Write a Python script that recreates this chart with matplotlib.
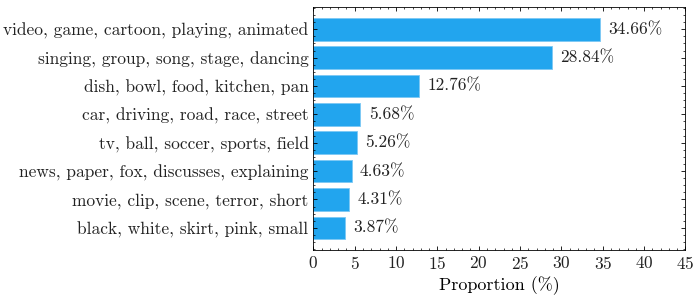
import matplotlib
matplotlib.use("Agg")
import matplotlib.pyplot as plt
from matplotlib.ticker import MultipleLocator

topics = [
    "video, game, cartoon, playing, animated",
    "singing, group, song, stage, dancing",
    "dish, bowl, food, kitchen, pan",
    "car, driving, road, race, street",
    "tv, ball, soccer, sports, field",
    "news, paper, fox, discusses, explaining",
    "movie, clip, scene, terror, short",
    "black, white, skirt, pink, small",
]
proportions = [34.66, 28.84, 12.76, 5.68, 5.26, 4.63, 4.31, 3.87]

plt.rcParams["font.family"] = "cmr10"
plt.rcParams["mathtext.fontset"] = "cm"
plt.rcParams["axes.formatter.use_mathtext"] = True
plt.rcParams["font.size"] = 12.5
plt.rcParams["text.color"] = "#222222"
plt.rcParams["xtick.labelcolor"] = "#222222"
plt.rcParams["ytick.labelcolor"] = "#222222"

fig, ax = plt.subplots(figsize=(6.98, 2.99), dpi=100)
pos = list(range(len(topics)))
ax.barh(pos, proportions, height=0.8, color="#22a5ee", edgecolor="#7cc8f4", linewidth=0.6)
for y, v in zip(pos, proportions):
    ax.text(v + 1.0, y, f"{v:.2f}%", va="center", ha="left", fontsize=12.5)

ax.set_yticks(pos)
ax.set_yticklabels(topics)
ax.invert_yaxis()
ax.set_xlim(0, 45)
ax.xaxis.set_major_locator(MultipleLocator(5))
ax.xaxis.set_minor_locator(MultipleLocator(1))
ax.yaxis.set_minor_locator(MultipleLocator(0.25))
ax.set_xlabel("Proportion (%)", fontsize=13, labelpad=3)
ax.tick_params(which="both", direction="in", top=True, right=True)
ax.tick_params(which="major", length=3, width=0.6)
ax.tick_params(which="minor", length=1.5, width=0.5)
for s in ax.spines.values():
    s.set_linewidth(0.6)

fig.subplots_adjust(left=0.449, right=0.982, top=0.977, bottom=0.163)
fig.savefig("out.png", dpi=100)
